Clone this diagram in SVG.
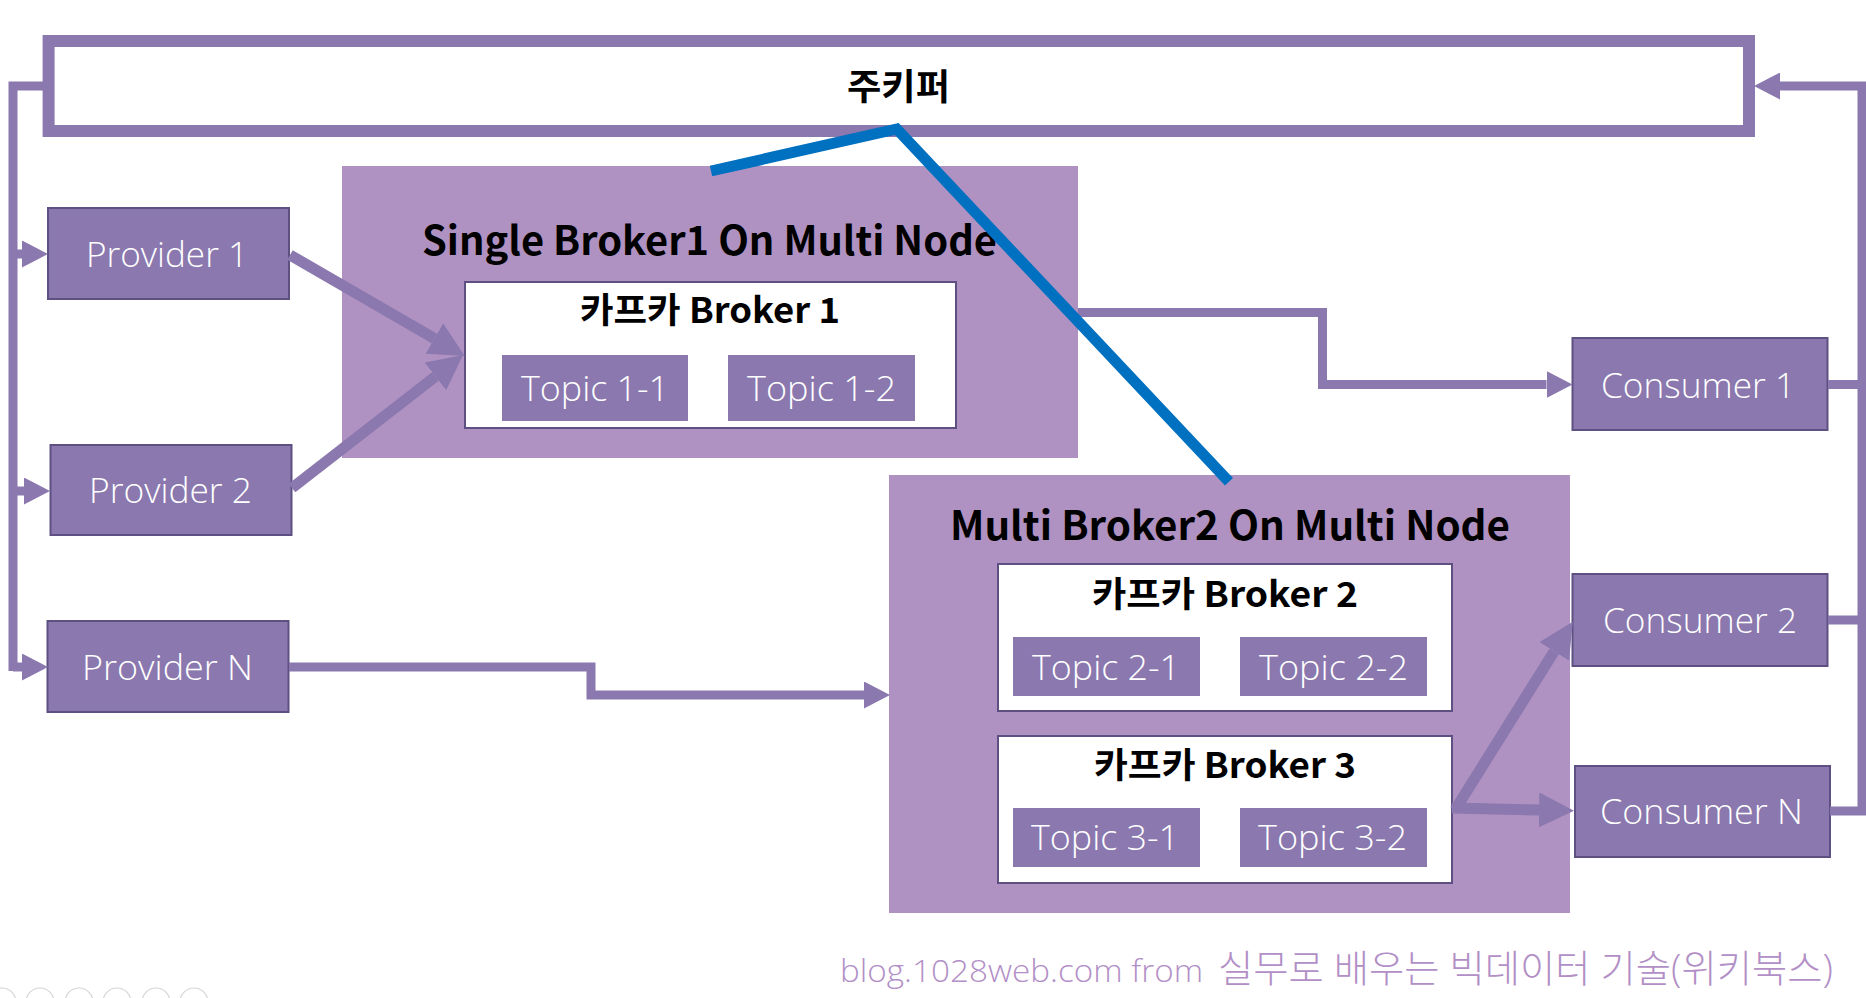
<svg xmlns="http://www.w3.org/2000/svg" width="1866" height="998" viewBox="0 0 1866 998">
<style>
  .box{fill:#8A78AE;stroke:#5E5082;stroke-width:2}
  .topic{fill:#8A78AE}
  .cont{fill:#B092C2}
  .brk{fill:#FFFFFF;stroke:#5E5082;stroke-width:2}
  .zk{fill:#FFFFFF;stroke:#8A78AE;stroke-width:12}
  .wt{font-family:"Open Sans","Liberation Sans",sans-serif;font-weight:300;font-size:35px;fill:#FFFFFF}
  .tt{font-family:"Noto Sans CJK KR","Liberation Sans",sans-serif;font-weight:bold;fill:#000000}
  .ln{fill:none;stroke:#8A78AE;stroke-width:9}
  .lnb{fill:none;stroke:#8A78AE;stroke-width:11}
  .blue{fill:none;stroke:#0070C0;stroke-width:11;stroke-linejoin:miter}
  .wm{font-family:"Open Sans","Noto Sans CJK KR",sans-serif;font-weight:300;fill:#B28FC6}
  .ico{fill:none;stroke:#D6D6D6;stroke-width:1.2}
</style>
<defs>
  <marker id="ma" markerUnits="userSpaceOnUse" markerWidth="26" markerHeight="27" refX="0" refY="13.5" orient="auto">
    <path d="M0,0 L26,13.5 L0,27 Z" fill="#8A78AE"/>
  </marker>
  <marker id="ml" markerUnits="userSpaceOnUse" markerWidth="35" markerHeight="35" refX="0" refY="17.5" orient="auto">
    <path d="M0,0 L35,17.5 L0,35 Z" fill="#8A78AE"/>
  </marker>
</defs>
<rect width="1866" height="998" fill="#FFFFFF"/>

<g id="zookeeper">
  <rect class="zk" x="48.6" y="41" width="1700.4" height="90"/>
  <text class="tt" x="847" y="100" font-size="36" textLength="103" lengthAdjust="spacingAndGlyphs">주키퍼</text>
</g>

<g id="single-broker">
  <rect class="cont" x="342" y="166" width="736" height="292"/>
  <text class="tt" x="422" y="255" font-size="40" textLength="575" lengthAdjust="spacingAndGlyphs">Single Broker1 On Multi Node</text>
</g>
<g id="kafka-broker-1">
  <rect class="brk" x="465" y="282" width="491" height="146"/>
  <text class="tt" x="580" y="323" font-size="35" textLength="260" lengthAdjust="spacingAndGlyphs">카프카 Broker 1</text>
</g>
<g id="topic-1-1">
  <rect class="topic" x="502" y="355" width="186" height="66"/>
  <text class="wt" x="521" y="401" textLength="148" lengthAdjust="spacingAndGlyphs">Topic 1-1</text>
</g>
<g id="topic-1-2">
  <rect class="topic" x="728" y="355" width="187" height="66"/>
  <text class="wt" x="747" y="401" textLength="149" lengthAdjust="spacingAndGlyphs">Topic 1-2</text>
</g>

<g id="multi-broker">
  <rect class="cont" x="889" y="475" width="681" height="438"/>
  <text class="tt" x="950" y="540" font-size="40" textLength="560" lengthAdjust="spacingAndGlyphs">Multi Broker2 On Multi Node</text>
</g>
<g id="kafka-broker-2">
  <rect class="brk" x="998" y="564" width="454" height="147"/>
  <text class="tt" x="1092" y="607" font-size="35" textLength="266" lengthAdjust="spacingAndGlyphs">카프카 Broker 2</text>
</g>
<g id="topic-2-1">
  <rect class="topic" x="1013" y="637" width="187" height="59"/>
  <text class="wt" x="1032" y="680" textLength="148" lengthAdjust="spacingAndGlyphs">Topic 2-1</text>
</g>
<g id="topic-2-2">
  <rect class="topic" x="1240" y="637" width="187" height="59"/>
  <text class="wt" x="1259" y="680" textLength="149" lengthAdjust="spacingAndGlyphs">Topic 2-2</text>
</g>
<g id="kafka-broker-3">
  <rect class="brk" x="998" y="736" width="454" height="147"/>
  <text class="tt" x="1094" y="778" font-size="35" textLength="262" lengthAdjust="spacingAndGlyphs">카프카 Broker 3</text>
</g>
<g id="topic-3-1">
  <rect class="topic" x="1013" y="808" width="187" height="59"/>
  <text class="wt" x="1031" y="850" textLength="148" lengthAdjust="spacingAndGlyphs">Topic 3-1</text>
</g>
<g id="topic-3-2">
  <rect class="topic" x="1240" y="808" width="187" height="59"/>
  <text class="wt" x="1258" y="850" textLength="149" lengthAdjust="spacingAndGlyphs">Topic 3-2</text>
</g>

<g id="provider-1">
  <rect class="box" x="48" y="208" width="241" height="91"/>
  <text class="wt" x="86" y="267" textLength="162" lengthAdjust="spacingAndGlyphs">Provider 1</text>
</g>
<g id="provider-2">
  <rect class="box" x="50.5" y="445" width="241" height="90"/>
  <text class="wt" x="89" y="503" textLength="163" lengthAdjust="spacingAndGlyphs">Provider 2</text>
</g>
<g id="provider-n">
  <rect class="box" x="47.5" y="621" width="241" height="91"/>
  <text class="wt" x="82" y="680" textLength="171" lengthAdjust="spacingAndGlyphs">Provider N</text>
</g>

<g id="consumer-1">
  <rect class="box" x="1572.5" y="338" width="255" height="92"/>
  <text class="wt" x="1601" y="398" textLength="194" lengthAdjust="spacingAndGlyphs">Consumer 1</text>
</g>
<g id="consumer-2">
  <rect class="box" x="1572.5" y="574" width="255" height="92"/>
  <text class="wt" x="1603" y="633" textLength="194" lengthAdjust="spacingAndGlyphs">Consumer 2</text>
</g>
<g id="consumer-n">
  <rect class="box" x="1575" y="766" width="255" height="91"/>
  <text class="wt" x="1600" y="824" textLength="203" lengthAdjust="spacingAndGlyphs">Consumer N</text>
</g>

<g id="connectors">
  <path class="ln" d="M43,86 H13 V671"/>
  <path class="ln" d="M13,254 H22" marker-end="url(#ma)"/>
  <path class="ln" d="M13,491 H24" marker-end="url(#ma)"/>
  <path class="ln" d="M13,667 H22" marker-end="url(#ma)"/>
  <path class="ln" d="M1828,384.5 H1862"/>
  <path class="ln" d="M1828,620 H1862"/>
  <path class="ln" d="M1830,811 H1862 V86 H1780" marker-end="url(#ma)"/>
  <path class="ln" d="M1078,312.5 H1322.5 V384.5 H1546.5" marker-end="url(#ma)"/>
  <path class="ln" d="M289,667 H591 V695 H864" marker-end="url(#ma)"/>
  <path class="lnb" d="M290,255 L434.4,338.5" marker-end="url(#ml)"/>
  <path class="lnb" d="M292,488 L435.4,376.5" marker-end="url(#ml)"/>
  <path class="lnb" d="M1455,810 L1554.2,651.4" marker-end="url(#ml)"/>
  <path class="lnb" d="M1452,808 L1539,810" marker-end="url(#ml)"/>
  <path class="blue" d="M711,171 L896.8,129 L1229,481.7"/>
</g>

<text class="wm" x="840" y="982" font-size="32" textLength="363" lengthAdjust="spacingAndGlyphs">blog.1028web.com  from</text>
<text class="wm" x="1218" y="982" font-size="38" textLength="615" lengthAdjust="spacingAndGlyphs">실무로 배우는 빅데이터 기술(위키북스)</text>

<circle class="ico" cx="2" cy="1002" r="14"/>
<circle class="ico" cx="40" cy="1002" r="14"/>
<circle class="ico" cx="79" cy="1002" r="14"/>
<circle class="ico" cx="117" cy="1002" r="14"/>
<circle class="ico" cx="156" cy="1002" r="14"/>
<circle class="ico" cx="194" cy="1002" r="14"/>
</svg>
